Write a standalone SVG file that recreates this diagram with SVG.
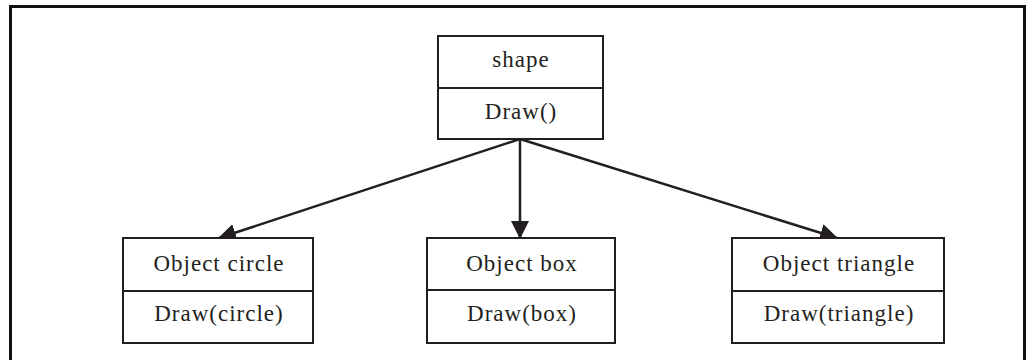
<svg xmlns="http://www.w3.org/2000/svg" width="1028" height="360" viewBox="0 0 1028 360">
<style>
.box{fill:#fff;stroke:#231f20;stroke-width:2}
.div{stroke:#231f20;stroke-width:2}
.t{font-family:"Liberation Serif","DejaVu Serif",serif;font-size:23px;letter-spacing:1px;fill:#231f20;text-anchor:middle}
.c{stroke:#231f20;stroke-width:2.5;fill:none}
</style>
<defs>
<marker id="ah" markerUnits="userSpaceOnUse" markerWidth="18" markerHeight="18" viewBox="0 0 18 18" refX="17" refY="9" orient="auto">
<path d="M0,0 L18,9 L0,18 Z" fill="#231f20"/>
</marker>
</defs>
<rect x="10.5" y="6.5" width="1014" height="400" fill="#fff" stroke="#111" stroke-width="3"/>
<g id="connectors">
<line class="c" x1="520" y1="139" x2="219" y2="238" marker-end="url(#ah)"/>
<line class="c" x1="520" y1="139" x2="520" y2="238" marker-end="url(#ah)"/>
<line class="c" x1="520" y1="139" x2="837" y2="238" marker-end="url(#ah)"/>
</g>
<g id="shape">
<rect class="box" x="438" y="36" width="165" height="103"/>
<line class="div" x1="438" y1="88" x2="603" y2="88"/>
<text class="t" x="521" y="67">shape</text>
<text class="t" x="521" y="119">Draw()</text>
</g>
<g id="circle">
<rect class="box" x="123" y="238" width="190" height="105"/>
<line class="div" x1="123" y1="291" x2="313" y2="291"/>
<text class="t" x="219" y="271">Object circle</text>
<text class="t" x="219" y="321">Draw(circle)</text>
</g>
<g id="box">
<rect class="box" x="427" y="238" width="188" height="105"/>
<line class="div" x1="427" y1="290" x2="615" y2="290"/>
<text class="t" x="522" y="271">Object box</text>
<text class="t" x="522" y="321">Draw(box)</text>
</g>
<g id="triangle">
<rect class="box" x="732" y="238" width="212" height="105"/>
<line class="div" x1="732" y1="291" x2="944" y2="291"/>
<text class="t" x="839" y="271">Object triangle</text>
<text class="t" x="839" y="321">Draw(triangle)</text>
</g>
</svg>
